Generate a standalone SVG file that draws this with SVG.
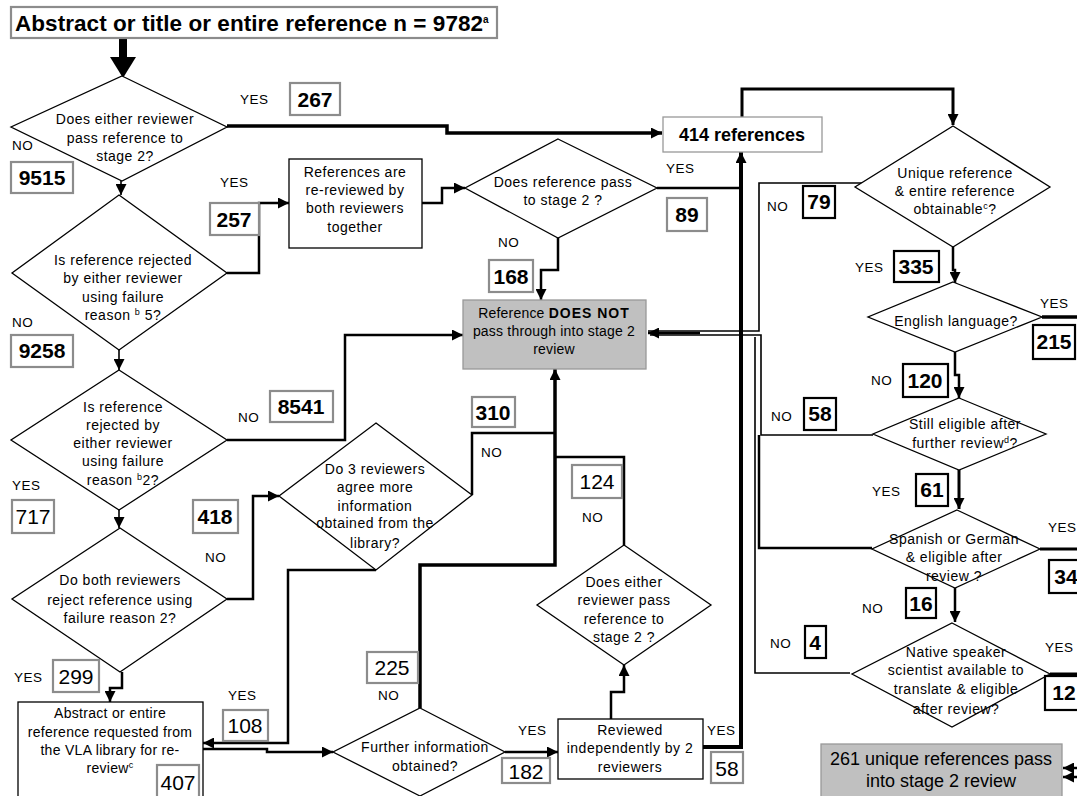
<svg xmlns="http://www.w3.org/2000/svg" width="1077" height="796" viewBox="0 0 1077 796">
<style>
.d{fill:#fff;stroke:#000;stroke-width:1.3}
.bx{fill:#fff;stroke:#000;stroke-width:1.3}
.gbox{fill:#c0c0c0;stroke:#999;stroke-width:1.3}
.gb{fill:#fff;stroke:#8c8c8c;stroke-width:2.2}
.kb{fill:#fff;stroke:#000;stroke-width:2.2}
text{font-family:"Liberation Sans",Arial,sans-serif;fill:#000}
.t{font-size:14px;text-anchor:middle;letter-spacing:0.5px}
.n{font-size:21px;text-anchor:middle;font-weight:bold}
.nr{font-size:21px;text-anchor:middle}
.l{font-size:13.5px;letter-spacing:0.5px}
.c{fill:none;stroke:#000;stroke-width:2.5}
.tk{stroke-width:4}
.th{stroke-width:1.6}
</style>
<defs>
<marker id="a" viewBox="0 0 10 10" refX="10" refY="5" markerWidth="11" markerHeight="11" markerUnits="userSpaceOnUse" orient="auto"><path d="M0,0 L10,5 L0,10 z" fill="#000"/></marker>
</defs>

<g id="connectors">
<rect x="119" y="38" width="8" height="21" fill="#000"/>
<polygon points="110,57 136,57 123,78" fill="#000"/>
<path class="c th" d="M121,181 V195" marker-end="url(#a)"/>
<path class="c" style="stroke-width:3.5" d="M227,126 H447 V133 H662" marker-end="url(#a)"/>
<path class="c" d="M227,273 H259 V203 H289" marker-end="url(#a)"/>
<path class="c" d="M422,203 H442 V188 H465" marker-end="url(#a)"/>
<path class="c" d="M657,188 H741"/>
<path class="c" d="M558,238 V270 H541 V300" marker-end="url(#a)"/>
<path class="c th" d="M119,350 V370" marker-end="url(#a)"/>
<path class="c" d="M227,440 H345 V335 H463" marker-end="url(#a)"/>
<path class="c th" d="M119,510 V528" marker-end="url(#a)"/>
<path class="c" d="M227,599 H253 V496 H279" marker-end="url(#a)"/>
<path class="c" d="M122,672 V688 H110 V702" marker-end="url(#a)"/>
<path class="c" d="M376,570 H288 V743 H203" marker-end="url(#a)"/>
<path class="c" d="M472,495 V433 H555"/>
<path class="c" style="stroke-width:3.5" d="M420,708 V565 H555 V369" marker-end="url(#a)"/>
<path class="c" d="M624,545 V457 H555"/>
<path class="c" d="M203,749 H267 V752 H333" marker-end="url(#a)"/>
<path class="c" d="M505,752 H558" marker-end="url(#a)"/>
<path class="c" d="M611,719 V692 H624 V665" marker-end="url(#a)"/>
<path class="c tk" d="M703,747 H741 V152" marker-end="url(#a)"/>
<path class="c" style="stroke-width:3" d="M742,117 V89 H953 V125" marker-end="url(#a)"/>
<path class="c th" d="M868,183 H759 V331 H648"/>
<path class="c th" d="M873,435 H761 V335 H650"/>
<path class="c" d="M872,548 H759 V435"/>
<path class="c th" d="M850,673 H755 V337"/>
<path class="c" d="M700,333 H648" marker-end="url(#a)"/>
<path class="c" d="M953,247 V270 H955 V283" marker-end="url(#a)"/>
<path class="c" style="stroke-width:3.5" d="M1042,317 H1077"/>
<path class="c" d="M955,352 V375 H959 V398" marker-end="url(#a)"/>
<path class="c" style="stroke-width:3" d="M959,470 V509" marker-end="url(#a)"/>
<path class="c" style="stroke-width:3" d="M1040,549 H1077"/>
<path class="c" d="M955,588 V622" marker-end="url(#a)"/>
<path class="c" style="stroke-width:3" d="M1050,674 H1077"/>
<path class="c" d="M1077,768 H1063" marker-end="url(#a)"/>
<path class="c" d="M1077,777 H1063" marker-end="url(#a)"/>
</g>

<g id="title">
<rect x="11" y="7" width="486" height="31" class="gb"/>
<text x="15" y="31" style="font-size:22.5px;font-weight:bold;letter-spacing:0.05px">Abstract or title or entire reference n = 9782<tspan font-size="10" dy="-8">a</tspan></text>
</g>

<g id="d1">
<polygon class="d" points="122,76 227,127 122,181 11,127"/>
<text class="t"><tspan x="125" y="124">Does either reviewer</tspan><tspan x="125" y="143">pass reference to</tspan><tspan x="125" y="161">stage 2?</tspan></text>
</g>
<g id="d2">
<polygon class="d" points="119,195 227,273 119,350 12,273"/>
<text class="t"><tspan x="123" y="265">Is reference rejected</tspan><tspan x="123" y="283">by either reviewer</tspan><tspan x="123" y="302">using failure</tspan><tspan x="123" y="320">reason <tspan font-size="9" dy="-5">b</tspan><tspan dy="5"> 5?</tspan></tspan></text>
</g>
<g id="d3">
<polygon class="d" points="119,370 227,440 119,510 11,440"/>
<text class="t"><tspan x="123" y="412">Is reference</tspan><tspan x="123" y="430">rejected by</tspan><tspan x="123" y="448">either reviewer</tspan><tspan x="123" y="466">using failure</tspan><tspan x="123" y="485">reason <tspan font-size="9" dy="-5">b</tspan><tspan dy="5">2?</tspan></tspan></text>
</g>
<g id="d4">
<polygon class="d" points="120,528 227,599 120,672 12,599"/>
<text class="t"><tspan x="120" y="585">Do both  reviewers</tspan><tspan x="120" y="605">reject reference using</tspan><tspan x="120" y="623">failure reason 2?</tspan></text>
</g>
<g id="rereview">
<rect class="bx" x="289" y="159" width="133" height="89"/>
<text class="t"><tspan x="355" y="177">References are</tspan><tspan x="355" y="195">re-reviewed by</tspan><tspan x="355" y="213">both reviewers</tspan><tspan x="355" y="232">together</tspan></text>
</g>
<g id="dpass">
<polygon class="d" points="558,139 657,188 558,238 465,188"/>
<text class="t"><tspan x="563" y="187">Does reference pass</tspan><tspan x="563" y="205">to stage 2 ?</tspan></text>
</g>
<g id="refs414">
<rect class="bx" style="stroke:#999" x="663" y="117" width="159" height="35"/>
<text x="742" y="141" style="font-size:18px;font-weight:bold;text-anchor:middle">414 references</text>
</g>
<g id="notpass">
<rect class="gbox" x="463" y="300" width="183" height="69"/>
<text class="t" style="letter-spacing:0.2px"><tspan x="554" y="318">Reference <tspan font-weight="bold" letter-spacing="1">DOES NOT</tspan></tspan><tspan x="554" y="336">pass through into stage 2</tspan><tspan x="554" y="354">review</tspan></text>
</g>
<g id="d5">
<polygon class="d" points="376,423 472,495 376,570 279,496"/>
<text class="t"><tspan x="375" y="474">Do 3 reviewers</tspan><tspan x="375" y="492">agree more</tspan><tspan x="375" y="511">information</tspan><tspan x="375" y="528">obtained from the</tspan><tspan x="375" y="548">library?</tspan></text>
</g>
<g id="d6">
<polygon class="d" points="624,545 711,605 624,665 537,605"/>
<text class="t"><tspan x="624" y="587">Does either</tspan><tspan x="624" y="605">reviewer pass</tspan><tspan x="624" y="624">reference to</tspan><tspan x="624" y="642">stage 2 ?</tspan></text>
</g>
<g id="d7">
<polygon class="d" points="420,708 505,752 420,796 333,752"/>
<text class="t"><tspan x="425" y="752">Further information</tspan><tspan x="425" y="771">obtained?</tspan></text>
</g>
<g id="reviewed">
<rect class="bx" x="558" y="719" width="145" height="60"/>
<text class="t"><tspan x="630" y="735">Reviewed</tspan><tspan x="630" y="753">independently by 2</tspan><tspan x="630" y="772">reviewers</tspan></text>
</g>
<g id="abstractbox">
<rect class="bx" x="18" y="702" width="185" height="100"/>
<text class="t" style="letter-spacing:0.3px"><tspan x="110" y="718">Abstract or entire</tspan><tspan x="110" y="737">reference requested from</tspan><tspan x="110" y="755">the VLA library for re-</tspan><tspan x="110" y="773">review<tspan font-size="9" dy="-5">c</tspan></tspan></text>
</g>
<g id="unique">
<polygon class="d" points="953,126 1050,187 953,247 855,187"/>
<text class="t"><tspan x="955" y="178">Unique reference</tspan><tspan x="955" y="196">&amp;  entire reference</tspan><tspan x="955" y="214">obtainable<tspan font-size="9" dy="-5">c</tspan><tspan dy="5">?</tspan></tspan></text>
</g>
<g id="english">
<polygon class="d" points="953,282 1042,317 955,352 868,317"/>
<text class="t" x="956" y="326">English language?</text>
</g>
<g id="still">
<polygon class="d" points="959,398 1046,434 959,470 873,434"/>
<text class="t"><tspan x="965" y="429">Still eligible after</tspan><tspan x="965" y="448">further review<tspan font-size="9" dy="-5">d</tspan><tspan dy="5">?</tspan></tspan></text>
</g>
<g id="spanish">
<polygon class="d" points="957,510 1040,549 955,588 872,549"/>
<text class="t"><tspan x="954" y="544">Spanish or German</tspan><tspan x="954" y="562">&amp; eligible after</tspan><tspan x="954" y="581">review ?</tspan></text>
</g>
<g id="native">
<polygon class="d" points="952,623 1050,674 952,727 852,674"/>
<text class="t"><tspan x="956" y="657">Native speaker</tspan><tspan x="956" y="675">scientist available to</tspan><tspan x="956" y="694">translate &amp; eligible</tspan><tspan x="956" y="714">after review?</tspan></text>
</g>
<g id="pass261">
<rect class="gbox" x="821" y="744" width="241" height="56"/>
<text style="font-size:18px;text-anchor:middle"><tspan x="941" y="765">261 unique references pass</tspan><tspan x="941" y="787">into stage 2 review</tspan></text>
</g>

<g id="labels">
<rect class="gb" x="290" y="83" width="50" height="32"/><text class="n" x="315" y="107">267</text>
<rect class="gb" x="11" y="162" width="62" height="31"/><text class="n" x="42" y="185">9515</text>
<rect class="gb" x="210" y="203" width="49" height="32"/><text class="n" x="234" y="227">257</text>
<rect class="gb" x="11" y="335" width="62" height="32"/><text class="n" x="42" y="358">9258</text>
<rect class="gb" x="270" y="391" width="63" height="31"/><text class="n" x="301" y="414">8541</text>
<rect class="gb" x="12" y="500" width="42" height="33"/><text class="nr" x="33" y="524">717</text>
<rect class="gb" x="193" y="500" width="45" height="33"/><text class="n" x="215" y="524">418</text>
<rect class="gb" x="53" y="660" width="46" height="32"/><text class="nr" x="76" y="684">299</text>
<rect class="gb" x="223" y="710" width="45" height="31"/><text class="nr" x="245" y="733">108</text>
<rect class="gb" x="157" y="765" width="42" height="33"/><text class="nr" x="178" y="790">407</text>
<rect class="gb" x="472" y="397" width="43" height="30"/><text class="n" x="493" y="420">310</text>
<rect class="gb" x="489" y="260" width="44" height="32"/><text class="n" x="511" y="284">168</text>
<rect class="gb" x="572" y="465" width="50" height="33"/><text class="nr" x="597" y="489">124</text>
<rect class="gb" x="367" y="652" width="51" height="31"/><text class="nr" x="392" y="675">225</text>
<rect class="gb" x="502" y="758" width="48" height="25"/><text class="nr" x="526" y="779">182</text>
<rect class="gb" x="711" y="752" width="32" height="31"/><text class="nr" x="727" y="776">58</text>
<rect class="gb" x="667" y="198" width="40" height="33"/><text class="n" x="687" y="222">89</text>
<rect class="kb" x="803" y="186" width="32" height="32"/><text class="n" x="819" y="209">79</text>
<rect class="kb" x="894" y="251" width="45" height="31"/><text class="n" x="916" y="274">335</text>
<rect class="kb" x="1033" y="325" width="42" height="34"/><text class="n" x="1054" y="349">215</text>
<rect class="kb" x="903" y="364" width="45" height="33"/><text class="n" x="925" y="388">120</text>
<rect class="kb" x="804" y="398" width="32" height="32"/><text class="n" x="820" y="421">58</text>
<rect class="kb" x="916" y="474" width="32" height="32"/><text class="n" x="932" y="497">61</text>
<rect class="kb" x="1049" y="560" width="45" height="33"/><text class="n" x="1066" y="584">34</text>
<rect class="kb" x="906" y="588" width="30" height="30"/><text class="n" x="921" y="611">16</text>
<rect class="kb" x="805" y="626" width="21" height="32"/><text class="n" x="815" y="650">4</text>
<rect class="kb" x="1045" y="676" width="45" height="34"/><text class="n" x="1064" y="700">12</text>

<text class="l" x="240" y="104">YES</text>
<text class="l" x="12" y="150">NO</text>
<text class="l" x="220" y="187">YES</text>
<text class="l" x="12" y="327">NO</text>
<text class="l" x="238" y="422">NO</text>
<text class="l" x="12" y="490">YES</text>
<text class="l" x="205" y="562">NO</text>
<text class="l" x="14" y="682">YES</text>
<text class="l" x="228" y="700">YES</text>
<text class="l" x="666" y="173">YES</text>
<text class="l" x="498" y="247">NO</text>
<text class="l" x="481" y="457">NO</text>
<text class="l" x="582" y="522">NO</text>
<text class="l" x="378" y="700">NO</text>
<text class="l" x="518" y="735">YES</text>
<text class="l" x="707" y="735">YES</text>
<text class="l" x="767" y="211">NO</text>
<text class="l" x="855" y="272">YES</text>
<text class="l" x="1040" y="308">YES</text>
<text class="l" x="871" y="385">NO</text>
<text class="l" x="771" y="421">NO</text>
<text class="l" x="872" y="496">YES</text>
<text class="l" x="1048" y="532">YES</text>
<text class="l" x="862" y="613">NO</text>
<text class="l" x="770" y="648">NO</text>
<text class="l" x="1045" y="652">YES</text>
</g>
</svg>
